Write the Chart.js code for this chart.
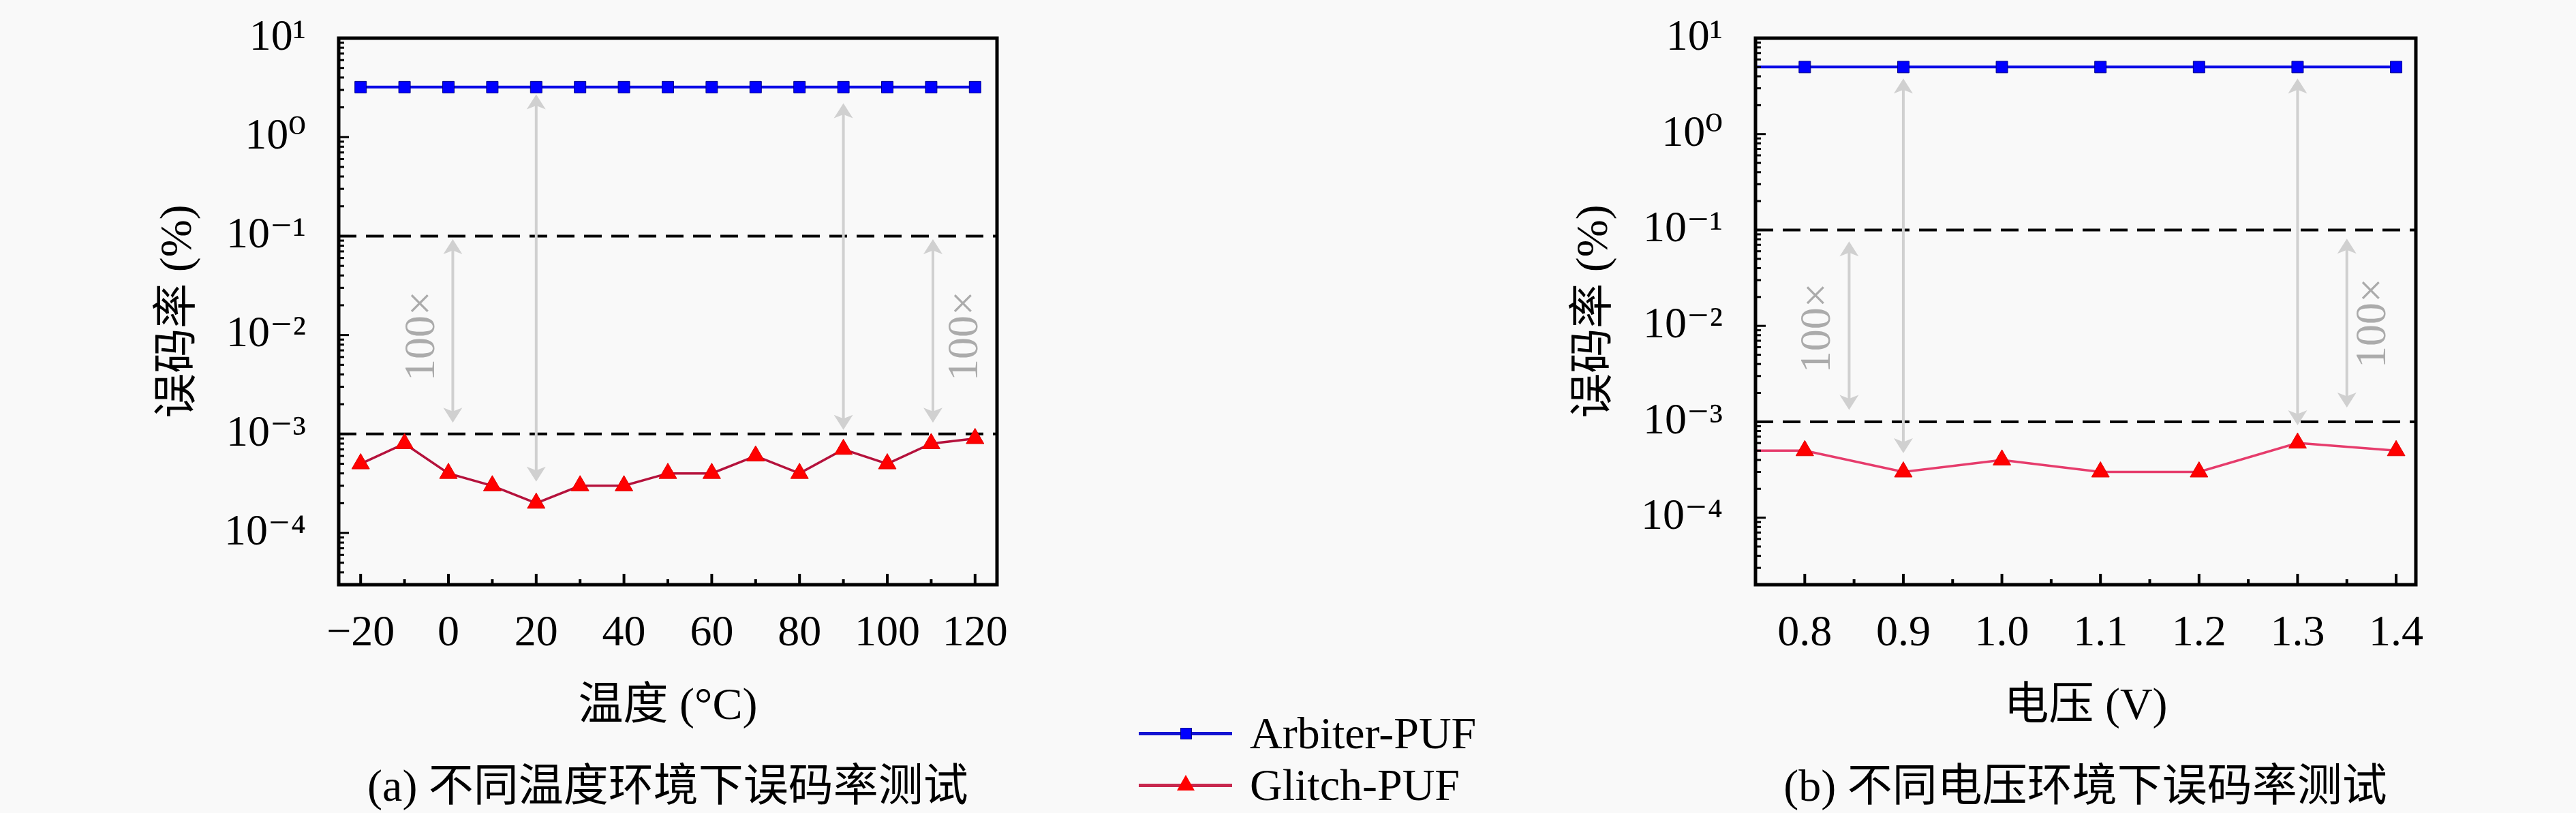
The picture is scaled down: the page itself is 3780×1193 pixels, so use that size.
<!DOCTYPE html>
<html>
<head>
<meta charset="utf-8">
<script src="https://cdn.jsdelivr.net/npm/chart.js@4.4.1/dist/chart.umd.min.js"></script>
<style>
  body { margin: 0; background: #f9f9f9; }
  #fig { position: relative; width: 3780px; height: 1193px; overflow: hidden;
         font-family: "Liberation Serif", "Noto Sans CJK SC", serif; color: #000; }
  canvas { position: absolute; top: 0; }
  .cap { position: absolute; top: 1118px; font-size: 66px; line-height: 70px;
         white-space: nowrap; transform: translateX(-50%); }
  .lg-line { position: absolute; left: 1671px; width: 137px; height: 5px; }
  .lg-text { position: absolute; left: 1834px; font-size: 66px; line-height: 80px; white-space: nowrap; }
</style>
</head>
<body>
<div id="fig">
  <canvas id="chartA" width="1890" height="1193" style="left:0"></canvas>
  <canvas id="chartB" width="1890" height="1193" style="left:1890px"></canvas>

  <div class="lg-line" style="top:1074px;background:#1414d2"></div>
  <div style="position:absolute;left:1732px;top:1068px;width:17px;height:17px;background:#0000ff;box-sizing:border-box;border:1px solid #00008b"></div>
  <div class="lg-text" style="top:1036px">Arbiter-PUF</div>

  <div class="lg-line" style="top:1150px;background:#c8284e"></div>
  <div style="position:absolute;left:1727px;top:1137px;width:26px;height:23px;background:#ff0000;clip-path:polygon(50% 0,100% 100%,0 100%)"></div>
  <div class="lg-text" style="top:1112px">Glitch-PUF</div>

  <div class="cap" style="left:980px">(a) 不同温度环境下误码率测试</div>
  <div class="cap" style="left:3060px">(b) 不同电压环境下误码率测试</div>
</div>
<script>
// temperature sweep (a)
const tempC = [-20, -10, 0, 10, 20, 30, 40, 50, 60, 70, 80, 90, 100, 110, 120];
const arbiterTemp = [3.2, 3.2, 3.2, 3.2, 3.2, 3.2, 3.2, 3.2, 3.2, 3.2, 3.2, 3.2, 3.2, 3.2, 3.2];
const glitchTemp = [5e-4, 8e-4, 4e-4, 3e-4, 2e-4, 3e-4, 3e-4, 4e-4, 4e-4, 6e-4, 4e-4, 7e-4, 5e-4, 8e-4, 9e-4];
const tempTicks = [-20, -10, 0, 10, 20, 30, 40, 50, 60, 70, 80, 90, 100, 110, 120];

// voltage sweep (b); 0.7 V lies just left of the visible range
const voltV = [0.7, 0.8, 0.9, 1.0, 1.1, 1.2, 1.3, 1.4];
const arbiterVolt = [5, 5, 5, 5, 5, 5, 5, 5];
const glitchVolt = [5e-4, 5e-4, 3e-4, 4e-4, 3e-4, 3e-4, 6e-4, 5e-4];
const voltTicks = [0.8, 0.85, 0.9, 0.95, 1.0, 1.05, 1.1, 1.15, 1.2, 1.25, 1.3, 1.35, 1.4];

// dashed reference levels (%)
const refLevels = [1e-1, 1e-3];

// double arrows [x, yTop, yBottom] and "100×" notes [x, y], in data units
const arrowsTemp = [[1, 0.093, 1.3e-3], [20, 2.7, 3.3e-4], [90, 2.2, 1.1e-3], [110.4, 0.093, 1.3e-3]];
const notesTemp = [[-5.9, 0.0098], [117.9, 0.0098]];
const arrowsVolt = [[0.845, 0.076, 1.33e-3], [0.9, 3.8, 4.7e-4], [1.3, 3.8, 9.2e-4], [1.35, 0.081, 1.41e-3]];
const notesVolt = [[0.814, 0.0095], [1.377, 0.0107]];

const numFont = '"Liberation Serif", "DejaVu Serif", serif';
const cjkFont = '"Liberation Serif", "Noto Sans CJK SC", serif';

const sup = { '-': '⁻', '0': '⁰', '1': '¹', '2': '²', '3': '³', '4': '⁴', '5': '⁵' };
function powLabel(v) {
  const e = Math.log10(v);
  if (Math.abs(e - Math.round(e)) > 1e-6) return '';
  return '10' + String(Math.round(e)).split('').map(c => sup[c]).join('');
}

function arrowHead(ctx, x, tipY, dir) {
  const L = 22, W = 14;
  ctx.beginPath();
  ctx.moveTo(x, tipY);
  ctx.lineTo(x - W, tipY - dir * L);
  ctx.lineTo(x, tipY - dir * L * 0.75);
  ctx.lineTo(x + W, tipY - dir * L);
  ctx.closePath();
  ctx.fill();
}

// frame, inward ticks, dashed levels, arrows and notes
const decor = {
  id: 'decor',
  beforeDatasetsDraw(chart, args, opts) {
    const { ctx, chartArea: a, scales: { x, y } } = chart;
    ctx.save();
    ctx.strokeStyle = '#000';
    ctx.lineWidth = 4;
    ctx.setLineDash([26, 14]);
    refLevels.forEach(v => {
      const py = y.getPixelForValue(v);
      ctx.beginPath(); ctx.moveTo(a.left, py); ctx.lineTo(a.right, py); ctx.stroke();
    });
    ctx.setLineDash([]);

    ctx.strokeStyle = '#d0d0d0';
    ctx.fillStyle = '#d0d0d0';
    ctx.lineWidth = 4;
    opts.arrows.forEach(([xv, y1, y2]) => {
      const px = x.getPixelForValue(xv);
      const p1 = y.getPixelForValue(y1), p2 = y.getPixelForValue(y2);
      ctx.beginPath(); ctx.moveTo(px, p1 + 16); ctx.lineTo(px, p2 - 16); ctx.stroke();
      arrowHead(ctx, px, p1, -1);
      arrowHead(ctx, px, p2, 1);
    });

    ctx.fillStyle = '#ababab';
    ctx.font = '64px ' + numFont;
    ctx.textAlign = 'center';
    ctx.textBaseline = 'middle';
    opts.notes.forEach(([xv, yv]) => {
      ctx.save();
      ctx.translate(x.getPixelForValue(xv), y.getPixelForValue(yv));
      ctx.rotate(-Math.PI / 2);
      ctx.fillText('100×', 0, 0);
      ctx.restore();
    });
    ctx.restore();
  },
  afterDatasetsDraw(chart) {
    const { ctx, chartArea: a, scales: { x, y } } = chart;
    ctx.save();
    ctx.strokeStyle = '#000';
    ctx.lineWidth = 4;
    x.ticks.forEach(t => {
      const px = x.getPixelForValue(t.value);
      const len = t.label ? 16 : 8;
      ctx.beginPath(); ctx.moveTo(px, a.bottom); ctx.lineTo(px, a.bottom - len); ctx.stroke();
    });
    ctx.lineWidth = 3;
    for (let k = Math.floor(Math.log10(y.min)); k <= Math.ceil(Math.log10(y.max)); k++) {
      for (let m = 1; m <= 9; m++) {
        const v = m * Math.pow(10, k);
        if (v < y.min || v > y.max) continue;
        const py = y.getPixelForValue(v);
        ctx.beginPath(); ctx.moveTo(a.left, py); ctx.lineTo(a.left + (m === 1 ? 15 : 8), py); ctx.stroke();
      }
    }
    ctx.lineWidth = 5;
    ctx.strokeRect(a.left, a.top, a.right - a.left, a.bottom - a.top);
    ctx.restore();
  }
};

function makeChart(id, c) {
  return new Chart(document.getElementById(id).getContext('2d'), {
    type: 'line',
    data: {
      datasets: [{
        label: 'Arbiter-PUF',
        data: c.xs.map((v, i) => ({ x: v, y: c.arbiter[i] })),
        borderColor: '#0a0ae6',
        backgroundColor: '#0000ff',
        pointBorderColor: '#00008b',
        pointBorderWidth: 1,
        pointStyle: 'rect',
        pointRadius: 12,
        borderWidth: 4,
        tension: 0
      }, {
        label: 'Glitch-PUF',
        data: c.xs.map((v, i) => ({ x: v, y: c.glitch[i] })),
        borderColor: c.glitchColor,
        backgroundColor: '#ff0000',
        pointBorderColor: '#e00000',
        pointBorderWidth: 1,
        pointStyle: 'triangle',
        pointRadius: 15,
        borderWidth: 3.5,
        tension: 0
      }]
    },
    options: {
      responsive: false,
      animation: false,
      devicePixelRatio: 1,
      layout: { padding: { left: 0, top: 56, right: c.padRight, bottom: 0 } },
      plugins: {
        legend: { display: false },
        tooltip: { enabled: false },
        decor: { arrows: c.arrows, notes: c.notes }
      },
      scales: {
        x: {
          type: 'linear',
          min: c.xMin,
          max: c.xMax,
          grid: { display: false, drawTicks: false },
          border: { display: false },
          afterBuildTicks: s => { s.ticks = c.ticks.map(v => ({ value: v })); },
          ticks: {
            autoSkip: false,
            maxRotation: 0,
            minRotation: 0,
            padding: 34,
            color: '#000',
            font: { family: numFont, size: 64 },
            callback: c.xLabel
          },
          title: {
            display: true,
            text: c.xTitle,
            color: '#000',
            font: { family: cjkFont, size: 66 },
            padding: { top: 0, bottom: 116 }
          },
          afterFit: s => { s.height = 335; }
        },
        y: {
          type: 'logarithmic',
          min: c.yMin,
          max: 10,
          grid: { display: false, drawTicks: false },
          border: { display: false },
          ticks: {
            autoSkip: false,
            padding: 48,
            color: '#000',
            font: { family: numFont, size: 64 },
            callback: v => powLabel(v)
          },
          title: {
            display: true,
            text: '误码率 (%)',
            color: '#000',
            font: { family: cjkFont, size: 66 },
            padding: { top: c.yTitlePad, bottom: 0 }
          },
          // fixed axis width; no extra room above the plot for the top label
          afterFit: s => { s.width = c.yWidth; s.paddingTop = 0; s.paddingBottom = 0; }
        }
      }
    },
    plugins: [decor]
  });
}

makeChart('chartA', {
  xs: tempC, arbiter: arbiterTemp, glitch: glitchTemp, ticks: tempTicks,
  glitchColor: '#b5123c',
  xMin: -25, xMax: 125,
  xLabel: v => (v % 20 === 0 ? (v < 0 ? '−' + Math.abs(v) : String(v)) : ''),
  xTitle: '温度 (°C)',
  yMin: 3e-5, yWidth: 497, yTitlePad: 223, padRight: 427,
  arrows: arrowsTemp, notes: notesTemp
});

makeChart('chartB', {
  xs: voltV, arbiter: arbiterVolt, glitch: glitchVolt, ticks: voltTicks,
  glitchColor: '#e63c6c',
  xMin: 0.75, xMax: 1.42,
  xLabel: v => (Math.abs(v * 10 - Math.round(v * 10)) < 1e-6 ? v.toFixed(1) : ''),
  xTitle: '电压 (V)',
  yMin: 2e-5, yWidth: 686, yTitlePad: 411, padRight: 235,
  arrows: arrowsVolt, notes: notesVolt
});
</script>
</body>
</html>
